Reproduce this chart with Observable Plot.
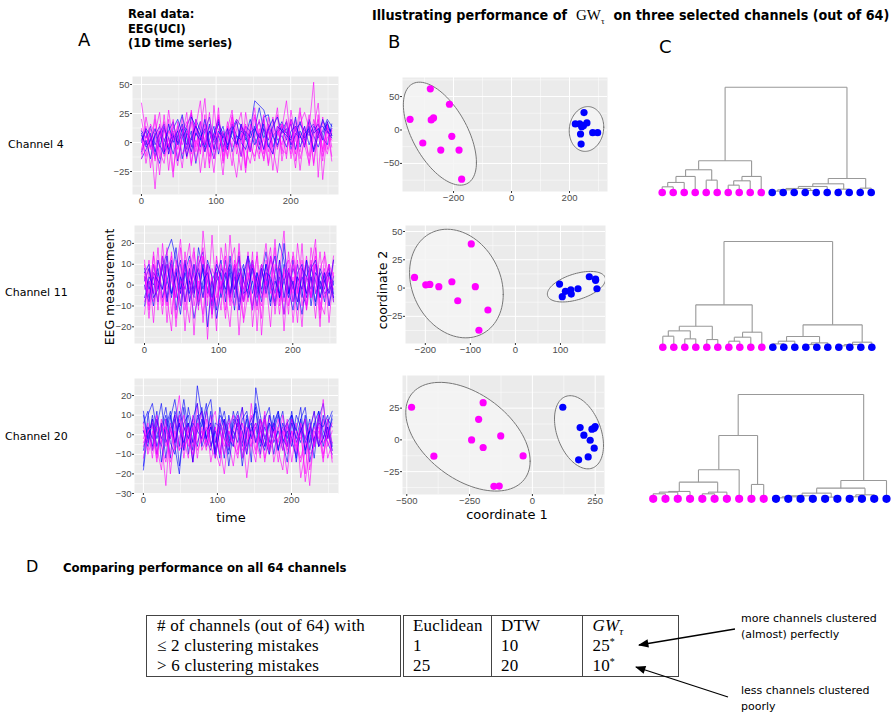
<!DOCTYPE html>
<html><head><meta charset="utf-8">
<script src="https://cdn.jsdelivr.net/npm/d3@7"></script>
<script src="https://cdn.jsdelivr.net/npm/@observablehq/plot@0.6"></script>
<style>
body{margin:0;background:#fff;}
#fig{position:relative;width:894px;height:713px;overflow:hidden;font-family:"DejaVu Sans",sans-serif;color:#000;}
.abs{position:absolute;white-space:nowrap;line-height:1;}
.abs svg{display:block;}
.bold{font-weight:bold;font-family:"DejaVu Sans Condensed","DejaVu Sans",sans-serif;font-stretch:condensed;}
table.res{position:absolute;left:146px;top:615px;width:533px;border-collapse:collapse;border:1.3px solid #444;font-family:"Liberation Serif","DejaVu Serif",serif;font-size:17px;letter-spacing:0.2px;}
table.res td{padding:0 0 0 9px;height:20px;line-height:20px;border-left:1px solid #444;white-space:nowrap;vertical-align:middle;}
table.res td.first{border-left:none;border-right:4px double #444;padding-left:10px;}
table.res td.sep{border-left:none;}
table.res sub, table.res sup{line-height:0;vertical-align:baseline;position:relative;}
table.res sub{top:4px;font-size:11px;}
table.res sup{top:-6px;font-size:10px;}
</style></head><body><div id="fig"></div>
<script>
// ---------------- DATA ----------------
const groups = ["magenta", "blue"];
const groupColors = ["#FF00FF", "#0000FF"];
const channelNames = ["Channel 4", "Channel 11", "Channel 20"];

// EEG traces (values read/, evenly spaced over t = 0..255)
const ch4Magenta = [
"34 8 -6 20 -14 24 -10 16 2 -22 14 26 -8 10 38 -12 6 22 -16 12 28 -4 14 -20 8 24 0 -14 16 6 30 -10 20 4 -22 16 26 12 52 -30 22 -6 12",
"12 -18 5 -40 10 -8 20 -25 6 14 -12 28 -4 18 -22 10 -6 30 -18 4 22 -10 8 -26 16 2 -14 20 -8 12 24 -16 6 18 -10 26 4 -12 20 8 -16 18 -4",
"-6 14 -22 8 26 -12 4 -30 18 -2 10 -20 14 36 -8 2 -26 12 6 -14 24 -4 16 -22 10 30 -10 4 -18 22 -6 12 36 -2 14 -24 8 18 -8 24 -32 10 2",
"20 -2 12 -16 4 18 -24 10 -6 22 -14 6 16 -10 24 -18 8 2 -28 14 -4 20 -12 26 0 -16 12 -6 22 -10 8 16 -14 28 2 -8 14 -20 6 20 -6 16 -12",
"-10 22 2 -14 16 -6 28 -2 -20 8 18 -10 20 -26 4 14 -8 24 -12 6 -20 12 26 -6 -18 4 20 -10 14 -24 10 -2 18 -14 6 30 -4 12 -18 16 4 -10 8",
"4 -12 16 8 -28 12 -4 20 -14 6 26 -18 2 -8 16 -22 32 -6 10 -12 18 -2 -24 14 -8 22 6 -16 10 -4 -26 16 8 -10 20 -14 2 24 -20 10 -8 14 -16",
"-14 6 -4 24 -8 -18 10 2 14 -10 -4 18 -16 6 -2 26 -14 8 -6 18 -8 -30 4 16 -4 -12 6 24 -20 2 14 -6 -10 20 -16 8 -2 -18 12 34 -12 4 10"];
const ch4Blue = [
"-14 -6 4 -8 10 2 -4 12 20 8 14 24 6 18 -2 10 4 16 8 -6 12 20 14 2 10 36 32 28 14 6 10 18 8 4 12 16 10 6 14 8 18 12 10",
"6 -2 8 -12 2 14 -6 4 10 -14 8 2 16 -4 10 22 0 6 -8 12 4 -2 14 8 -6 10 18 4 12 -4 8 14 2 20 10 6 -2 12 16 4 10 20 14",
"2 10 -4 6 14 -8 -2 8 -16 4 12 -4 20 10 -6 2 14 -10 8 -2 16 6 -12 10 4 14 -2 22 24 6 -4 12 8 16 -6 10 2 14 6 -4 8 16 6",
"10 4 14 -2 8 16 -10 6 0 12 -6 22 14 4 -8 10 2 18 -4 8 14 -2 10 6 20 4 -6 12 2 14 22 8 12 -2 6 18 4 10 -6 12 14 8 12",
"-8 2 -14 8 -4 12 4 -10 6 16 -2 10 -18 4 12 -4 8 20 2 -6 10 -2 16 4 -8 12 30 10 -4 6 -2 10 18 -6 8 4 14 -2 10 16 4 -2 16",
"0 12 6 -6 -18 2 10 18 -2 8 -12 4 14 6 -4 16 -6 10 4 12 -8 6 2 14 10 -2 8 -6 12 20 2 6 -4 10 14 6 -4 20 8 12 2 18 6",
"8 -4 2 12 -2 -10 16 0 10 24 4 -8 8 2 20 -2 -14 6 14 -4 10 18 0 -6 8 12 4 16 -2 -10 14 10 6 2 22 -4 8 12 -8 6 20 10 4"];
const ch11Magenta = [
"-14 8 -18 12 4 -10 16 -6 10 -22 6 18 -8 14 -26 8 2 -12 20 -4 10 -24 6 14 -10 4 -16 12 -2 22 -8 6 -14 16 2 -20 10 -6 18 -12 6 -4 14",
"6 -16 10 2 -8 18 -14 6 22 -4 -18 10 -2 14 -10 24 -6 2 -16 10 18 -12 4 -8 16 -22 8 0 12 -14 6 26 -10 4 -18 12 -4 8 22 -16 2 10 -8",
"10 -4 14 -12 20 -2 8 -20 4 12 -8 16 -2 -14 10 4 -22 18 6 -8 12 -4 -16 10 2 14 -24 6 -4 18 -10 8 12 -18 4 -2 14 -6 10 -20 16 2 -6",
"-2 12 -8 4 -14 10 2 -6 18 -12 8 -4 14 -18 6 -8 12 2 -12 24 -2 6 -8 16 -20 2 10 -6 14 4 -14 8 -2 10 -8 20 -12 4 -16 8 14 -10 12",
"4 -10 16 -2 10 -6 -22 12 -4 8 20 -10 2 -6 10 -16 14 -2 8 -10 4 16 -18 -4 10 -12 6 20 -2 -10 12 -22 6 14 -4 8 -12 18 2 -8 -14 10 4",
"-8 2 -4 18 -10 6 14 -16 2 -2 12 -24 8 18 -6 4 -10 10 -4 -20 8 12 -2 6 -12 16 -6 2 -20 10 6 -8 16 -4 12 -10 4 -6 14 -2 8 -18 6",
"12 -12 6 -8 14 -18 10 4 -10 16 -2 6 -12 26 4 -14 6 -4 14 -6 -10 20 -8 4 12 -4 -10 6 18 -6 2 -14 8 -8 20 2 -10 12 -4 16 -6 4 -2"];
const ch11Blue = [
"4 -6 10 -2 8 16 22 12 4 -8 6 -2 10 16 -4 2 -12 8 4 -6 10 2 -8 14 6 -2 10 4 -10 6 20 12 -4 8 2 -6 12 4 -8 6 -2 10 -8",
"-6 2 -10 6 -2 10 -4 4 12 -8 2 -16 -4 8 2 -10 6 -2 12 -6 4 -8 8 0 -12 6 -4 10 2 -8 4 -14 6 -2 10 -4 -10 8 2 -6 4 8 -4",
"2 8 -4 12 4 -6 10 -2 -14 6 14 4 -4 10 -20 2 8 -6 4 10 -2 6 -8 2 12 -4 8 -2 14 4 -6 10 -4 2 -12 8 4 -2 10 -6 2 6 0",
"8 -2 4 -8 14 2 -4 8 -10 10 2 -6 18 6 -2 -8 4 12 -4 6 -12 8 2 -4 10 -6 4 16 0 -10 8 2 -6 12 -2 -14 4 10 -4 2 -8 6 -6",
"-10 4 0 8 -6 2 12 -12 4 -2 8 -4 6 -2 10 -14 2 6 -8 14 -2 4 10 -6 2 -10 8 -4 6 14 -6 2 8 -8 4 -2 12 -10 6 2 -4 -2 12",
"0 -8 6 2 -2 14 -6 6 -4 12 -8 2 8 -6 12 4 -16 -2 6 -4 8 -12 4 14 -4 6 -2 10 -8 2 -4 20 -2 -12 6 10 -6 4 -10 8 2 -4 4",
"6 10 -6 -2 10 -8 4 18 -2 6 -4 10 -10 2 6 -6 10 4 -2 8 -6 14 -4 -2 8 2 -8 6 4 -4 12 -6 6 0 -8 4 -4 8 12 -2 6 -10 2"];
const ch20Magenta = [
"-6 4 -12 8 -2 -26 6 -4 10 -8 2 -14 6 -2 12 -6 4 -10 2 8 -4 -12 6 -2 10 -8 4 -14 2 6 -6 -2 8 -4 -10 2 -20 6 -2 4 -12 2 -8",
"4 -8 2 -14 6 -2 -10 4 20 -6 -2 8 -12 4 -4 10 -8 -16 2 6 -4 -10 14 -2 -6 4 8 -12 -2 6 -8 -18 4 -2 -6 -14 -4 -26 2 -6 8 -12 -4",
"-12 2 6 -6 -18 4 -2 10 -8 -4 6 -14 2 12 -6 -2 4 -10 8 -4 -16 2 6 -8 4 -2 -12 8 -6 2 -4 10 -10 -2 6 -22 -8 2 12 -6 -2 4 -14",
"2 -4 8 -10 2 4 -14 -6 6 -2 -12 10 -4 2 -8 6 12 -6 -20 2 -4 8 -2 -10 16 -4 2 -6 10 -14 -2 4 -8 2 -6 4 -24 -8 4 -2 18 -6 2",
"-2 6 -8 4 -6 -14 2 -4 8 -12 4 -6 16 -8 -2 6 -10 2 -6 4 10 -8 2 -22 -2 6 -4 12 -10 -2 4 -8 6 -14 2 -2 8 -18 -4 6 -10 4 -4",
"6 -10 -2 10 -4 8 -20 2 -8 4 -2 -10 6 -4 8 -14 -2 4 -10 2 -6 6 -12 4 -4 -14 8 -2 -8 4 -14 2 -6 8 -4 -12 -2 4 -6 2 -14 8 -12",
"-4 2 4 -12 8 -6 4 -8 -2 10 -6 4 -8 -2 4 -6 -12 8 -2 -6 2 10 -8 -4 2 -10 4 8 -6 -2 8 -4 -20 2 -8 6 -2 -10 -6 10 -4 -2 6"];
const ch20Blue = [
"-16 10 16 2 -6 8 -12 12 4 18 2 -4 25 10 -6 4 -10 14 2 -8 6 12 -4 8 -14 24 10 -2 6 -10 4 12 -6 8 2 -4 10 -8 6 12 -2 8 4",
"10 -4 6 -10 4 14 -2 8 -16 2 6 -8 10 4 16 -6 2 -12 8 -4 12 2 -6 10 -2 4 -10 8 14 -4 2 -8 6 10 -14 4 -2 8 -6 12 2 -4 -10",
"-18 2 -6 8 -2 4 12 -6 -20 6 10 -4 2 14 -2 -8 6 4 -12 10 -2 6 -16 2 8 12 -6 4 -4 10 -8 2 6 -2 -12 8 14 -4 6 -6 10 -2 8",
"6 12 -8 4 16 -4 2 10 -6 14 -10 6 2 -2 12 18 -4 6 -2 -10 8 4 14 -6 2 6 -4 10 -8 4 12 -2 -6 10 2 14 -10 4 -4 8 16 -2 10",
"2 -6 10 -2 6 -12 8 18 2 -4 6 -14 8 12 -2 4 -8 10 6 -16 2 -4 8 12 -2 16 4 -6 10 2 -8 6 -2 12 -4 2 8 -14 -2 6 4 10 -6",
"-8 4 -2 12 -14 2 10 -4 6 -8 14 2 -6 8 -2 12 -10 2 8 -6 4 10 -12 2 6 -4 8 -2 -10 6 12 -4 2 -6 10 4 -8 2 12 -6 -2 6 12",
"12 -2 8 -6 2 10 -4 -10 12 4 -2 8 16 -6 2 6 -12 4 12 -2 -6 8 2 -10 4 14 -2 -8 6 2 10 -4 -14 6 -2 8 -4 2 -12 10 -6 4 -8"];
const tsTicksY4 = [-25, 0, 25, 50];
const tsTicksY11 = [-20, -10, 0, 10, 20];
const tsTicksY20 = [-30, -20, -10, 0, 10, 20];
const tsTicksX = [0, 100, 200];

// MDS embeddings (coordinate 1, coordinate 2)
const mds4Magenta = [[-280,61.5],[-214,38.5],[-350,16],[-277,15],[-269,18],[-206,-9.5],[-306,-19.5],[-244,-30],[-181,-30],[-172,-73.5]];
const mds4Blue = [[250,26],[220,9],[235,9],[260,10.5],[242,5],[248,6.5],[238,-6],[280,-4],[297,-4],[240,-21]];
const mds11Magenta = [[-224,9.4],[-199,2.9],[-190,3.2],[-170,1.2],[-141,5.6],[-98,39],[-89,1.2],[-128,-11.2],[-61,-19.4],[-81,-37.3]];
const mds11Blue = [[98,3.5],[111,-2.9],[104,-7.6],[123,-1.5],[124,-5.3],[139,-0.6],[164,10],[178,7.9],[178,6.8],[181,-0.6]];
const mds20Magenta = [[-481,25.7],[-392,-12.8],[-196,29.3],[-214,16.2],[-242,0],[-196,-6],[-126,3.1],[-37,-12.6],[-153,-36.6],[-132,-36.4]];
const mds20Blue = [[121,25.7],[190,9.7],[205,3.7],[230,-0.3],[237,8.4],[246,9.2],[250,10.5],[246,-6.5],[184,-15.7],[222,-13.4]];
// cluster ellipses: [centre x, centre y, half-width x, half-height y, correlation]
const ell4Magenta = [-247, -5.5, 126, 77, -0.56];
const ell4Blue = [258.5, 1.5, 59.5, 33.5, 0.08];
const ell11Magenta = [-131, 4, 104, 48, -0.2];
const ell11Blue = [135.5, 1.2, 64.5, 13.5, 0.48];
const ell20Magenta = [-256.5, 2.5, 247.5, 42.8, -0.45];
const ell20Blue = [185.5, 6, 97.5, 28.8, -0.36];
const mdsTicks4 = {x: [-200, 0, 200], y: [-50, 0, 50]};
const mdsTicks11 = {x: [-200, -100, 0, 100], y: [-25, 0, 25, 50]};
const mdsTicks20 = {x: [-500, -250, 0, 250], y: [-25, 0, 25]};

// Hierarchical clustering (R hclust style merges: negative = leaf, positive = earlier merge)
const leafGroups = ["magenta","magenta","magenta","magenta","magenta","magenta","magenta","magenta","magenta","magenta",
                    "blue","blue","blue","blue","blue","blue","blue","blue","blue","blue"];
const merges4 = [[-1,-2,17],[1,-3,30],[2,-4,48],[-5,-6,37],[3,4,68],[-7,-8,22],[6,-9,35],[7,-10,48],[5,8,95],
  [-11,-12,4],[10,-13,8],[-14,-15,6],[11,12,12],[13,-16,18],[-17,-18,10],[14,15,26],[-19,-20,13],[16,17,42],[9,18,315]];
const merges11 = [[-1,-2,33],[-3,-4,25],[1,2,49],[-5,-6,23],[3,4,63],[-7,-8,18],[6,-9,30],[7,-10,45],[5,8,127],
  [-11,-12,10],[10,-13,18],[-14,-15,8],[12,-16,13],[11,13,32],[-17,-18,4],[15,-19,8],[16,-20,15],[14,17,67],[9,18,317]];
const merges20 = [[-1,-2,15],[1,-3,20],[2,-4,22],[-5,-6,15],[4,-7,20],[3,5,50],[6,-8,87],[-9,-10,43],[7,8,190],
  [-11,-12,3],[10,-13,6],[11,-14,9],[-15,-16,5],[12,13,17],[-17,-18,6],[15,-19,12],[14,16,32],[17,-20,55],[9,18,313]];

// Table D
const tableHeader = ["# of channels (out of 64) with", "Euclidean", "DTW", "<i>GW</i><sub><i>τ</i></sub>"];
const tableRowLabels = ["≤ 2 clustering mistakes", "&gt; 6 clustering mistakes"];
const tableEuclidean = ["1", "25"];
const tableDTW = ["10", "20"];
const tableGW = ["25<sup>*</sup>", "10<sup>*</sup>"];

// ---------------- HELPERS ----------------
const fig = document.getElementById("fig");
function put(node, left, top) {
  const d = document.createElement("div");
  d.className = "abs"; d.style.left = left + "px"; d.style.top = top + "px";
  d.appendChild(node); fig.appendChild(d); return d;
}
function txt(html, left, top, style = "", cls = "") {
  const d = document.createElement("div");
  d.className = "abs " + cls; d.style.left = left + "px"; d.style.top = top + "px";
  d.style.cssText += style; d.innerHTML = html; fig.appendChild(d); return d;
}
const colorScale = {domain: groups, range: groupColors};
const baseStyle = {fontFamily: "Liberation Sans, DejaVu Sans, sans-serif", fontSize: "9.5px", color: "#4D4D4D", background: "transparent", overflow: "visible"};
function minorTicks(t, dom) {
  const step = t[1] - t[0]; const out = [];
  for (let v = t[0] - step / 2; v <= dom[1]; v += step) if (v >= dom[0]) out.push(v);
  return out;
}
function ggMarks(xt, yt, xd, yd) {
  return [
    Plot.frame({fill: "#EBEBEB", stroke: "none"}),
    Plot.gridX(minorTicks(xt, xd), {stroke: "white", strokeOpacity: 1, strokeWidth: 0.5}),
    Plot.gridY(minorTicks(yt, yd), {stroke: "white", strokeOpacity: 1, strokeWidth: 0.5}),
    Plot.gridX(xt, {stroke: "white", strokeOpacity: 1, strokeWidth: 1}),
    Plot.gridY(yt, {stroke: "white", strokeOpacity: 1, strokeWidth: 1})
  ];
}
function axes(xt, yt) {
  return [
    Plot.axisX(xt, {tickSize: 2, tickPadding: 1, color: "#4D4D4D", stroke: "#333", label: null}),
    Plot.axisY(yt, {tickSize: 2, tickPadding: 1, color: "#4D4D4D", stroke: "#333", label: null})
  ];
}

// ---------------- PANEL A: time series ----------------
function tsPlot(mag, blu, cfg) {
  const rows = [];
  const n = Math.max(mag.length, blu.length);
  for (let i = 0; i < n; i++) {
    [["blue", blu[i]], ["magenta", mag[i]]].forEach(([g, s]) => {
      if (!s) return;
      const v = s.trim().split(/\s+/).map(Number);
      v.forEach((y, j) => rows.push({series: g + i, group: g, t: j * 255 / (v.length - 1), y}));
    });
  }
  const p = Plot.plot({
    width: cfg.w, height: cfg.h, marginLeft: cfg.ml, marginRight: cfg.mr, marginTop: cfg.mt, marginBottom: cfg.mb,
    x: {domain: cfg.xd}, y: {domain: cfg.yd}, color: colorScale, style: baseStyle,
    marks: [
      ...ggMarks(tsTicksX, cfg.yt, cfg.xd, cfg.yd),
      Plot.line(rows, {x: "t", y: "y", z: "series", stroke: "group", strokeWidth: 0.95, strokeOpacity: 0.65, clip: true}),
      ...axes(tsTicksX, cfg.yt)
    ]
  });
  put(p, cfg.left, cfg.top);
}
tsPlot(ch4Magenta, ch4Blue, {left: 100, top: 73, w: 242, h: 135, ml: 32, mr: 4, mt: 3, mb: 14, xd: [-12, 264], yd: [-44.8, 56.9], yt: tsTicksY4});
tsPlot(ch11Magenta, ch11Blue, {left: 100, top: 222, w: 240, h: 135, ml: 34, mr: 4, mt: 3, mb: 14, xd: [-13.5, 259], yd: [-28, 28.6], yt: tsTicksY11});
tsPlot(ch20Magenta, ch20Blue, {left: 100, top: 375, w: 242, h: 132, ml: 34, mr: 4, mt: 3, mb: 14, xd: [-12, 263.5], yd: [-30, 28.7], yt: tsTicksY20});

// ---------------- PANEL B: MDS scatter with ellipses ----------------
function ellipse([cx, cy, rx, ry, rho], group) {
  const alpha = Math.acos(rho);
  return d3.range(101).map(k => {
    const th = 2 * Math.PI * k / 100;
    return {x: cx + rx * Math.cos(th), y: cy + ry * Math.cos(th - alpha), group};
  });
}
function mdsPlot(mag, blu, em, eb, cfg) {
  const pts = [...mag.map(([x, y]) => ({x, y, group: "magenta"})), ...blu.map(([x, y]) => ({x, y, group: "blue"}))];
  const ell = [...ellipse(em, "magenta"), ...ellipse(eb, "blue")];
  const p = Plot.plot({
    width: cfg.w, height: cfg.h, marginLeft: cfg.ml, marginRight: cfg.mr, marginTop: cfg.mt, marginBottom: cfg.mb,
    x: {domain: cfg.xd}, y: {domain: cfg.yd}, color: colorScale, style: baseStyle,
    marks: [
      ...ggMarks(cfg.t.x, cfg.t.y, cfg.xd, cfg.yd),
      Plot.line(ell, {x: "x", y: "y", z: "group", fill: "#F4F4F4", fillOpacity: 0.85, stroke: "#777", strokeWidth: 1, curve: "linear-closed", clip: true}),
      Plot.dot(pts, {x: "x", y: "y", fill: "group", r: 3.6, stroke: "none"}),
      ...axes(cfg.t.x, cfg.t.y)
    ]
  });
  put(p, cfg.left, cfg.top);
}
mdsPlot(mds4Magenta, mds4Blue, ell4Magenta, ell4Blue, {left: 370, top: 74, w: 241, h: 131, ml: 32, mr: 4, mt: 3, mb: 14, xd: [-376, 331], yd: [-92, 78.5], t: mdsTicks4});
mdsPlot(mds11Magenta, mds11Blue, ell11Magenta, ell11Blue, {left: 370, top: 222, w: 239, h: 135, ml: 35, mr: 4, mt: 3, mb: 14, xd: [-244, 200], yd: [-49, 55.3], t: mdsTicks11});
mdsPlot(mds20Magenta, mds20Blue, ell20Magenta, ell20Blue, {left: 370, top: 372, w: 238, h: 136, ml: 32, mr: 4, mt: 3, mb: 14, xd: [-517, 287], yd: [-43, 50.7], t: mdsTicks20});

// ---------------- PANEL C: dendrograms ----------------
function dendroPlot(merges, cfg) {
  const nodes = [], segs = [];
  const pos = r => r < 0 ? {x: -r - 1, h: 0} : nodes[r - 1];
  merges.forEach(([a, b, h]) => {
    const A = pos(a), B = pos(b);
    segs.push({x1: A.x, y1: A.h, x2: A.x, y2: h}, {x1: B.x, y1: B.h, x2: B.x, y2: h}, {x1: A.x, y1: h, x2: B.x, y2: h});
    nodes.push({x: (A.x + B.x) / 2, h});
  });
  const leaves = leafGroups.map((g, i) => ({i, g}));
  const p = Plot.plot({
    width: cfg.w, height: cfg.h, marginLeft: cfg.ml, marginRight: cfg.mr, marginTop: cfg.mt, marginBottom: cfg.mb,
    x: {domain: [0, leafGroups.length - 1], axis: null}, y: {domain: [0, merges[merges.length - 1][2]], axis: null},
    color: colorScale, style: {background: "transparent", overflow: "visible"},
    marks: [
      Plot.link(segs, {x1: "x1", y1: "y1", x2: "x2", y2: "y2", stroke: "#999", strokeWidth: 1.1}),
      Plot.dot(leaves, {x: "i", y: 0, fill: "g", r: cfg.r, stroke: "none"})
    ]
  });
  put(p, cfg.left, cfg.top);
}
dendroPlot(merges4, {left: 640, top: 70, w: 250, h: 140, ml: 21.7, mr: 19.3, mt: 16.7, mb: 18, r: 3.8});
dendroPlot(merges11, {left: 640, top: 220, w: 250, h: 140, ml: 22.3, mr: 18.7, mt: 21, mb: 13.3, r: 3.8});
dendroPlot(merges20, {left: 640, top: 370, w: 254, h: 150, ml: 12.7, mr: 8, mt: 24, mb: 21.7, r: 4.1});

// ---------------- TEXT ----------------
txt("Real data:", 128, 8, "font-size:12.8px;", "bold");
txt("EEG(UCI)", 128, 23, "font-size:12.8px;", "bold");
txt("(1D time series)", 128, 37, "font-size:12.8px;", "bold");
txt("Illustrating performance of &nbsp;<span style=\"font-family:'Liberation Serif','DejaVu Serif',serif;font-weight:normal;font-size:15px\">GW<sub style='font-size:9px'>τ</sub></span>&nbsp; on three selected channels (out of 64)", 372, 8, "font-size:14.2px;", "bold");
txt("A", 78, 31, "font-size:18px;");
txt("B", 388, 33, "font-size:18px;");
txt("C", 659, 38, "font-size:18px;");
txt("D", 26, 559, "font-size:16px;");
txt("Comparing performance on all 64 channels", 63, 561, "font-size:13px;", "bold");
txt(channelNames[0], 8, 139, "font-size:11px;");
txt(channelNames[1], 5, 287, "font-size:11px;");
txt(channelNames[2], 5, 431, "font-size:11px;");
txt("EEG measurement", 110, 287, "font-size:12.5px;transform:translate(-50%,-50%) rotate(-90deg);");
txt("coordinate 2", 383, 290, "font-size:12.5px;transform:translate(-50%,-50%) rotate(-90deg);");
txt("coordinate 1", 507, 514, "font-size:13px;transform:translate(-50%,-50%);");
txt("time", 231, 517, "font-size:13px;transform:translate(-50%,-50%);");
txt("more channels clustered", 741, 613, "font-size:11px;");
txt("(almost) perfectly", 741, 629, "font-size:11px;");
txt("less channels clustered", 741, 685, "font-size:11px;");
txt("poorly", 741, 701, "font-size:11px;");

// ---------------- TABLE D ----------------
const tbl = document.createElement("table");
tbl.className = "res";
let html = "<tr><td class='first'>" + tableHeader[0] + "</td><td class='sep'>" + tableHeader[1] + "</td><td>" + tableHeader[2] + "</td><td>" + tableHeader[3] + "</td></tr>";
tableRowLabels.forEach((lab, i) => {
  html += "<tr><td class='first'>" + lab + "</td><td class='sep'>" + tableEuclidean[i] + "</td><td>" + tableDTW[i] + "</td><td>" + tableGW[i] + "</td></tr>";
});
tbl.innerHTML = html;
const colW = [254, 89, 91, 95];
const cg = document.createElement("colgroup");
colW.forEach(w => { const c = document.createElement("col"); c.style.width = w + "px"; cg.appendChild(c); });
tbl.insertBefore(cg, tbl.firstChild);
fig.appendChild(tbl);

// ---------------- ARROWS ----------------
const ns = "http://www.w3.org/2000/svg";
const asvg = document.createElementNS(ns, "svg");
asvg.setAttribute("width", 894); asvg.setAttribute("height", 713);
asvg.style.position = "absolute"; asvg.style.left = "0"; asvg.style.top = "0"; asvg.style.pointerEvents = "none";
asvg.innerHTML = `<defs><marker id="ah" viewBox="0 0 10 10" refX="9" refY="5" markerWidth="10" markerHeight="8" orient="auto-start-reverse"><path d="M0,1 L10,5 L0,9 z" fill="#000"/></marker></defs>
<line x1="735" y1="629" x2="639" y2="645" stroke="#000" stroke-width="1.3" marker-end="url(#ah)"/>
<line x1="728" y1="697" x2="636" y2="667" stroke="#000" stroke-width="1.3" marker-end="url(#ah)"/>`;
fig.appendChild(asvg);
</script></body></html>
